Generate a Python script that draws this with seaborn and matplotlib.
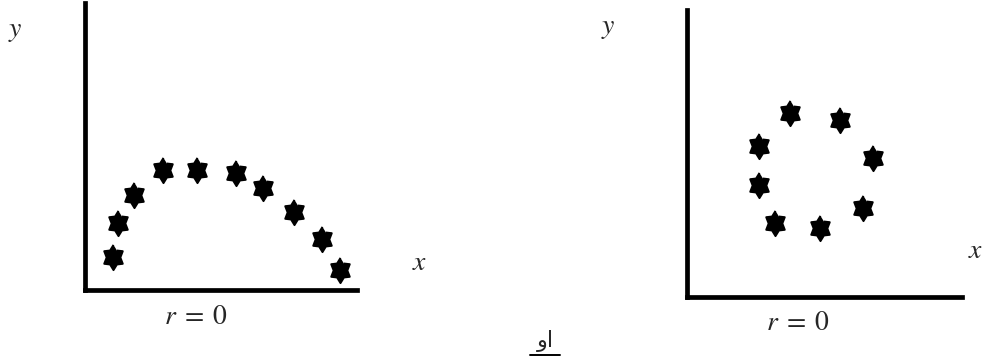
import numpy as np
import pandas as pd
import seaborn as sns
import matplotlib.pyplot as plt
from matplotlib.lines import Line2D

# points (axis units 0..10)
arc_x = [1.03, 1.21, 1.80, 2.87, 4.12, 5.55, 6.54, 7.68, 8.71, 9.38]
arc_y = [1.15, 2.33, 3.31, 4.18, 4.18, 4.08, 3.55, 2.72, 1.78, 0.70]
ring_x = [3.75, 5.56, 6.76, 2.62, 2.62, 6.40, 3.20, 4.84]
ring_y = [6.41, 6.17, 4.84, 5.26, 3.90, 3.10, 2.58, 2.40]
corr_label = "r = 0"
or_word = "او"

sns.set_style("white")
plt.rcParams["mathtext.fontset"] = "stix"

# six-pointed star marker, a bit taller than wide
ang = np.pi / 2 + np.arange(12) * np.pi / 6
rad = np.where(np.arange(12) % 2 == 0, 1.0, 0.64)
star = np.column_stack([0.85 * rad * np.cos(ang), rad * np.sin(ang)])

fig = plt.figure(figsize=(9.83, 3.59), dpi=100)
ax1 = fig.add_axes([0.0865, 0.1922, 0.2767, 0.7994])
ax2 = fig.add_axes([0.6989, 0.1727, 0.2798, 0.7994])

df1 = pd.DataFrame({"x": arc_x, "y": arc_y})
df2 = pd.DataFrame({"x": ring_x, "y": ring_y})

for ax, df in [(ax1, df1), (ax2, df2)]:
    sns.scatterplot(data=df, x="x", y="y", ax=ax, marker=star, s=330,
                    color="black", edgecolor="black", linewidth=1.4, clip_on=False)
    ax.set_xlim(0, 10)
    ax.set_ylim(0, 10)
    ax.set_xticks([])
    ax.set_yticks([])
    ax.set_xlabel("")
    ax.set_ylabel("")
    for side in ["top", "right"]:
        ax.spines[side].set_visible(False)
    for side in ["left", "bottom"]:
        ax.spines[side].set_linewidth(3.4)
        ax.spines[side].set_color("black")
    ax.patch.set_alpha(0)

# axis letters and captions
tkw = dict(fontsize=20, ha="center", va="center")
fig.text(15 / 983, 1 - 30 / 359, "$y$", **tkw)
fig.text(420 / 983, 1 - 262 / 359, "$x$", **tkw)
fig.text(608 / 983, 1 - 27 / 359, "$y$", **tkw)
fig.text(976 / 983, 1 - 250 / 359, "$x$", **tkw)
fig.text(196 / 983, 1 - 316 / 359, "$r\\;=\\;0$", **tkw)
fig.text(798 / 983, 1 - 322 / 359, "$r\\;=\\;0$", **tkw)

# no bidi shaping in matplotlib, so reverse for right-to-left display
fig.text(545 / 983, 1 - 341 / 359, or_word[::-1], fontsize=16, ha="center",
         va="center", family=["DejaVu Sans"])
fig.add_artist(Line2D([530 / 983, 560 / 983], [1 - 355 / 359, 1 - 355 / 359],
                      color="black", linewidth=1.4))

fig.savefig("out.png", dpi=100)
